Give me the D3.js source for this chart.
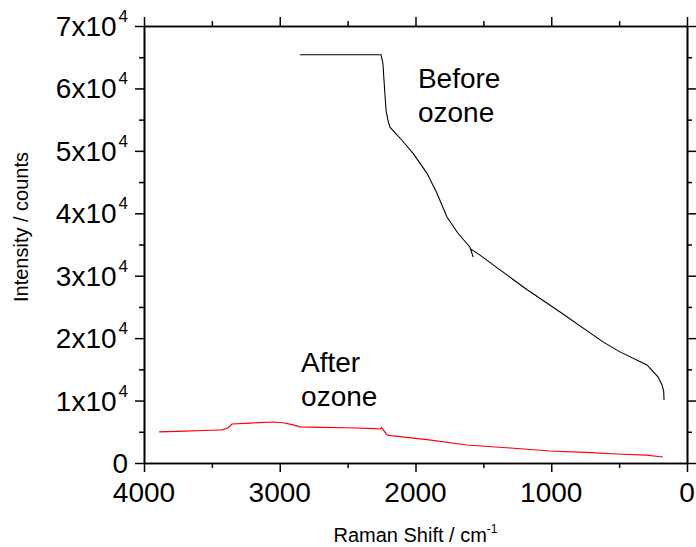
<!DOCTYPE html>
<html>
<head>
<meta charset="utf-8">
<title>Raman spectra before / after ozone</title>
<script src="https://d3js.org/d3.v7.min.js"></script>
<style>
  body { margin: 0; background: #fff; }
  text { font-family: "Liberation Sans", Arial, Helvetica, sans-serif; fill: #000; }
</style>
</head>
<body>
<script>
// spectra (Raman shift in cm-1, intensity in counts)
const beforeShift  = [2850, 2254, 2240, 2232, 2217, 2200, 2188, 2100, 2018, 1915, 1842, 1768, 1687, 1600, 1575, 1595, 1525, 1400, 1193, 935, 619, 494, 295, 214, 184, 172, 169];
const beforeCounts = [65400, 65400, 64000, 61300, 56500, 54600, 53800, 51700, 49600, 46400, 43200, 39400, 36800, 34600, 33000, 34300, 33300, 31300, 28000, 24200, 19400, 17800, 15700, 13800, 12500, 11500, 10100];

const afterShift  = [3889, 3700, 3500, 3425, 3381, 3352, 3219, 3050, 2976, 2900, 2851, 2700, 2500, 2300, 2261, 2250, 2210, 2166, 1900, 1621, 1300, 1009, 750, 516, 300, 177];
const afterCounts = [5000, 5100, 5250, 5300, 5600, 6250, 6400, 6570, 6450, 6100, 5800, 5700, 5650, 5500, 5450, 5650, 4500, 4330, 3700, 2880, 2400, 1920, 1700, 1440, 1250, 960];

const xMajor = [4000, 3000, 2000, 1000, 0];
const xMinor = [3500, 2500, 1500, 500];
const yMajor = [0, 10000, 20000, 30000, 40000, 50000, 60000, 70000];
const yMinor = [5000, 15000, 25000, 35000, 45000, 55000, 65000];

const width = 696, height = 547;
const margin = { top: 26, right: 9, bottom: 84, left: 144 };
const plotW = width - margin.left - margin.right;
const plotH = height - margin.top - margin.bottom;

const x = d3.scaleLinear().domain([4000, 0]).range([0, plotW]);
const y = d3.scaleLinear().domain([0, 70000]).range([plotH, 0]);

const svg = d3.select("body").append("svg")
    .attr("width", width)
    .attr("height", height);

const g = svg.append("g")
    .attr("transform", `translate(${margin.left},${margin.top})`);

// curves
const line = d3.line().x(d => x(d[0])).y(d => y(d[1]));

g.append("path")
    .datum(d3.zip(afterShift, afterCounts))
    .attr("d", line)
    .attr("fill", "none")
    .attr("stroke", "#ff0000")
    .attr("stroke-width", 1.2);

g.append("path")
    .datum(d3.zip(beforeShift, beforeCounts))
    .attr("d", line)
    .attr("fill", "none")
    .attr("stroke", "#000")
    .attr("stroke-width", 1.1);

// axes, mirrored on four sides, ticks outward
function styleAxis(sel) {
    sel.selectAll("path, line").attr("stroke", "#000").attr("stroke-width", 1.5);
    sel.select(".domain").attr("stroke-width", 1.6);
}

const axes = [
    g.append("g").attr("transform", `translate(0,${plotH})`)
        .call(d3.axisBottom(x).tickValues(xMajor).tickSize(9).tickSizeOuter(0).tickFormat("")),
    g.append("g").attr("transform", `translate(0,${plotH})`)
        .call(d3.axisBottom(x).tickValues(xMinor).tickSize(5).tickSizeOuter(0).tickFormat("")),
    g.append("g")
        .call(d3.axisTop(x).tickValues(xMajor).tickSize(9).tickSizeOuter(0).tickFormat("")),
    g.append("g")
        .call(d3.axisTop(x).tickValues(xMinor).tickSize(5).tickSizeOuter(0).tickFormat("")),
    g.append("g")
        .call(d3.axisLeft(y).tickValues(yMajor).tickSize(9).tickSizeOuter(0).tickFormat("")),
    g.append("g")
        .call(d3.axisLeft(y).tickValues(yMinor).tickSize(5).tickSizeOuter(0).tickFormat("")),
    g.append("g").attr("transform", `translate(${plotW},0)`)
        .call(d3.axisRight(y).tickValues(yMajor).tickSize(9).tickSizeOuter(0).tickFormat("")),
    g.append("g").attr("transform", `translate(${plotW},0)`)
        .call(d3.axisRight(y).tickValues(yMinor).tickSize(5).tickSizeOuter(0).tickFormat(""))
];
axes.forEach(styleAxis);

// tick labels
g.selectAll(".xlab")
    .data(xMajor)
    .enter().append("text")
    .attr("class", "xlab")
    .attr("x", d => x(d))
    .attr("y", plotH + 39)
    .attr("text-anchor", "middle")
    .attr("font-size", "28px")
    .text(d => d);

const ylab = g.selectAll(".ylab")
    .data(yMajor)
    .enter().append("text")
    .attr("class", "ylab")
    .attr("x", -16)
    .attr("y", d => y(d) + 10)
    .attr("text-anchor", "end")
    .attr("font-size", "28px");

ylab.each(function (d) {
    const t = d3.select(this);
    if (d === 0) {
        t.text("0");
        return;
    }
    t.append("tspan").text(`${d / 10000}x10`);
    t.append("tspan").attr("dx", 2).attr("dy", -14).attr("font-size", "17px").text("4");
});

// axis titles
const xTitle = svg.append("text")
    .attr("x", margin.left + plotW / 2)
    .attr("y", 542)
    .attr("text-anchor", "middle")
    .attr("font-size", "20px");
xTitle.append("tspan").text("Raman Shift / cm");
xTitle.append("tspan").attr("dy", -9).attr("font-size", "12px").text("-1");

svg.append("text")
    .attr("transform", "translate(28,227) rotate(-90)")
    .attr("text-anchor", "middle")
    .attr("font-size", "20px")
    .text("Intensity / counts");

// annotations
function note(lines, sx, cy) {
    const t = g.append("text")
        .attr("font-size", "28px");
    lines.forEach((s, i) => {
        t.append("tspan")
            .attr("x", x(sx))
            .attr("y", y(cy) + i * 34)
            .text(s);
    });
}
note(["Before", "ozone"], 1982, 60070);
note(["After", "ozone"], 2843, 14577);
</script>
</body>
</html>
